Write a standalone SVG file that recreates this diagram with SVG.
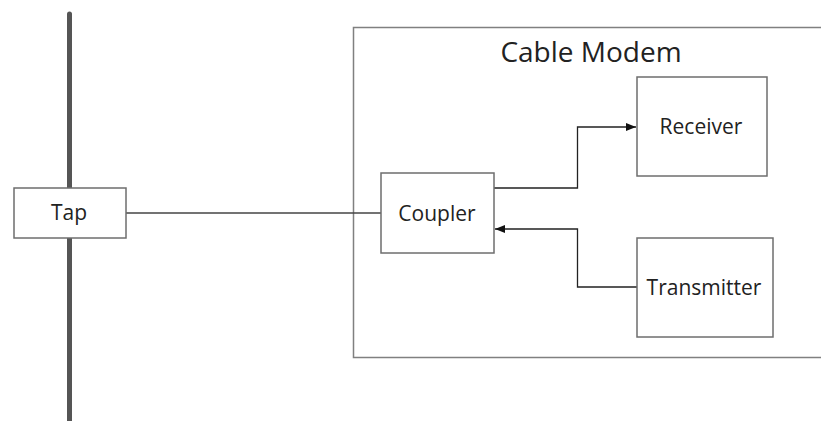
<svg xmlns="http://www.w3.org/2000/svg" width="821" height="421" viewBox="0 0 821 421">
<style>
.node{fill:#fff;stroke:#6e6e6e;stroke-width:1.5}
.lbl{font-family:"Open Sans","Noto Sans",sans-serif;font-size:21px;fill:#222;text-anchor:middle}
.conn{fill:none;stroke:#222;stroke-width:1.3}
</style>
<defs>
<marker id="arr" viewBox="0 0 10 10" refX="10" refY="5" markerWidth="10" markerHeight="10" markerUnits="userSpaceOnUse" orient="auto">
<path d="M0,1 L10,5 L0,9 Z" fill="#111"/>
</marker>
</defs>
<g id="bus"><line x1="69.5" y1="14" x2="69.5" y2="421" stroke="#555" stroke-width="5" stroke-linecap="round"/></g>
<g id="cable-modem">
<path d="M822,27.5 H353.5 V357.5 H822" fill="#fff" stroke="#808080" stroke-width="1.5"/>
<text x="591" y="62" class="lbl" style="font-size:28px">Cable Modem</text>
</g>
<g id="connectors">
<line x1="126" y1="213" x2="381" y2="213" stroke="#444" stroke-width="1.3"/>
<path class="conn" d="M494,188 H577.5 V127 H636" marker-end="url(#arr)"/>
<path class="conn" d="M637,287 H577.5 V229 H495" marker-end="url(#arr)"/>
</g>
<g id="tap"><rect class="node" x="14" y="188" width="112" height="50"/><text x="69" y="220" class="lbl">Tap</text></g>
<g id="coupler"><rect class="node" x="381" y="173" width="113" height="80"/><text x="437" y="221" class="lbl">Coupler</text></g>
<g id="receiver"><rect class="node" x="637" y="77" width="130" height="99"/><text x="701" y="134" class="lbl">Receiver</text></g>
<g id="transmitter"><rect class="node" x="637" y="238" width="136" height="99"/><text x="704" y="295" class="lbl">Transmitter</text></g>
</svg>
